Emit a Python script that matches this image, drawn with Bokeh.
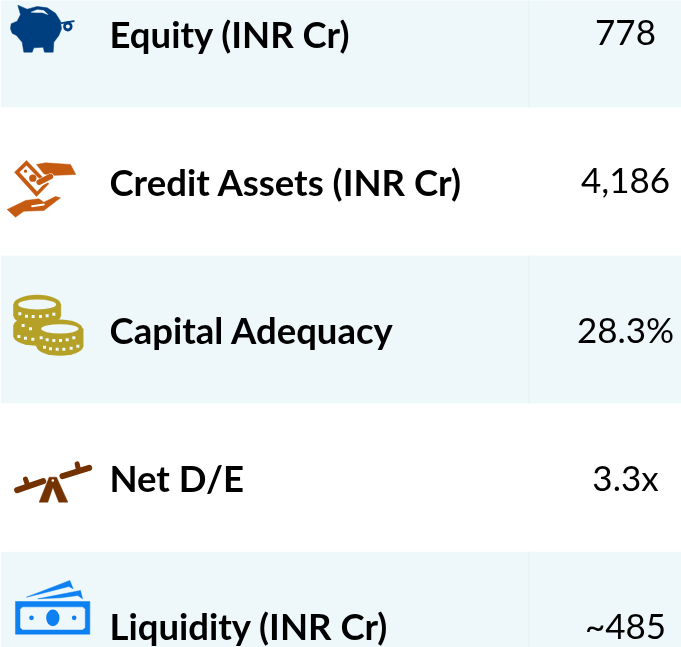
from bokeh.plotting import figure
from bokeh.models import Range1d
from bokeh.embed import file_html
from bokeh.resources import INLINE
from bokeh.core.properties import value

labels = ["Equity (INR Cr)", "Credit Assets (INR Cr)", "Capital Adequacy", "Net D/E", "Liquidity (INR Cr)"]
values = ["778", "4,186", "28.3%", "3.3x", "~485"]

W, H = 681, 647
ROW_H = 148.1
ROW0 = -41.2
BAND = "#EEF7F9"
DIV = "#E2F3F3"

p = figure(width=W, height=H, output_backend="svg", toolbar_location=None,
           x_range=Range1d(0, W), y_range=Range1d(H, 0), min_border=0,
           outline_line_color=None, background_fill_color="white",
           styles={"position": "fixed", "left": "0px", "top": "0px"})
p.axis.visible = False
p.grid.visible = False

n = len(labels)
tops = [ROW0 + ROW_H * i for i in range(n)]
centers = [t + ROW_H / 2 for t in tops]

for i in range(0, n, 2):
    p.quad(left=0, right=W, top=tops[i], bottom=tops[i] + ROW_H, fill_color=BAND, line_color=None)
    p.segment(528.5, tops[i], 528.5, tops[i] + ROW_H, line_color=DIV, line_width=1)

FONT = value("Lato")
p.text(x=[109] * n, y=[c + 0.3 for c in centers], text=labels, text_font=FONT, text_font_style="bold",
       text_font_size="36.5px", text_color="black", text_align="left", text_baseline="middle")
p.text(x=[625] * n, y=[c - 0.5 for c in centers], text=values, text_font=FONT, text_font_size="35px",
       text_color="black", text_align="center", text_baseline="middle")


def poly(pts, ox, oy, color):
    p.patch([ox + a / 3 for a, b in pts], [oy + b / 3 for a, b in pts], fill_color=color, line_color=color, line_width=0.5)


def line(pts, ox, oy, color, w):
    p.line([ox + a / 3 for a, b in pts], [oy + b / 3 for a, b in pts], line_color=color, line_width=w, line_cap="round")


def ell(cx, cy, rx, ry, ox, oy, color):
    p.ellipse(ox + cx / 3, oy + cy / 3, width=2 * rx / 3, height=2 * ry / 3, fill_color=color, line_color=None)


# piggy bank
c = "#003F7F"
poly([(52, 14), (80, 26), (110, 18), (140, 22), (165, 38), (180, 62), (183, 85), (175, 105), (160, 125), (158, 155),
      (132, 155), (128, 140), (100, 142), (95, 155), (70, 155), (65, 125), (48, 105), (35, 98), (30, 85), (32, 70),
      (50, 62), (60, 42)], 0, 0, c)
poly([(92, 35), (110, 28), (130, 30), (142, 42), (125, 36), (105, 36)], 0, 0, BAND)
line([(183, 68), (220, 62)], 0, 0, c, 1.8)
ell(202, 78, 14, 15, 0, 0, c)
ell(202, 78, 6, 6, 0, 0, BAND)

# hands with banknote
c = "#C55A11"
o = (0, 140)
poly([(42, 95), (78, 60), (145, 130), (108, 168)], *o, c)
poly([(58, 95), (78, 76), (130, 130), (110, 152)], *o, "white")
ell(97, 113, 11, 11, *o, c)
ell(75, 92, 5, 5, *o, c)
poly([(108, 72), (135, 67), (210, 72), (226, 102), (150, 105), (130, 100)], *o, c)
line([(116, 127), (150, 110)], *o, "white", 7.5)
line([(116, 125), (150, 108)], *o, c, 5.5)
poly([(20, 207), (75, 180), (115, 175), (130, 185), (165, 168), (180, 172), (130, 210), (70, 212), (45, 230)], *o, c)
line([(95, 197), (130, 192)], *o, "white", 2)

# coins
c = "#B5A127"
o = (0, 280)
for cx, top, bot, rx, ry in [(110, 135, 168, 71, 28), (110, 72, 106, 71, 29)]:
    ell(cx, top, rx, ry, *o, c)
    ell(cx, bot, rx, ry, *o, c)
    poly([(cx - rx, top), (cx + rx, top), (cx + rx, bot), (cx - rx, bot)], *o, c)
ell(110, 72, 57, 15, *o, BAND)
ell(178, 145, 68, 28, *o, c)
ell(178, 198, 70, 28, *o, c)
poly([(108, 145), (248, 145), (248, 198), (108, 198)], *o, c)
ell(178, 145, 56, 14, *o, BAND)


def dots(pts, ox, oy):
    p.rect([ox + a / 3 for a, b in pts], [oy + b / 3 for a, b in pts], width=3, height=3, fill_color=BAND, line_color=None)


dots([(58, 100), (78, 107), (98, 108), (120, 108), (140, 106), (160, 101),
      (68, 135), (90, 145), (55, 168), (75, 173), (97, 176),
      (122, 172), (140, 178), (160, 180), (180, 180), (200, 178), (220, 172),
      (132, 200), (150, 205), (170, 206), (190, 206), (212, 203), (232, 197)], *o)

# seesaw
c = "#733200"
o = (0, 440)
line([(50, 149), (128, 122)], *o, c, 6)
line([(186, 107), (266, 82)], *o, c, 6)
line([(75, 116), (80, 130)], *o, c, 5)
line([(230, 70), (234, 88)], *o, c, 5)
poly([(116, 185), (146, 110), (168, 110), (202, 185), (175, 185), (157, 140), (142, 185)], *o, c)
ell(157, 120, 4, 4, *o, "white")

# banknotes
c = "#0D80F2"
o = (0, 560)
poly([(45, 123), (268, 123), (268, 221), (45, 221)], *o, c)
poly([(66, 140), (247, 140), (253, 146), (253, 201), (247, 207), (66, 207), (60, 201), (60, 146)], *o, BAND)
ell(157, 172, 20, 25, *o, c)
ell(93, 172, 7, 7, *o, c)
ell(221, 172, 7, 7, *o, c)
poly([(78, 110), (208, 60), (218, 85), (205, 78), (120, 100)], *o, c)
poly([(112, 115), (240, 90), (246, 115), (232, 105), (180, 112)], *o, c)

open("out.html", "w").write(file_html(p, INLINE))
